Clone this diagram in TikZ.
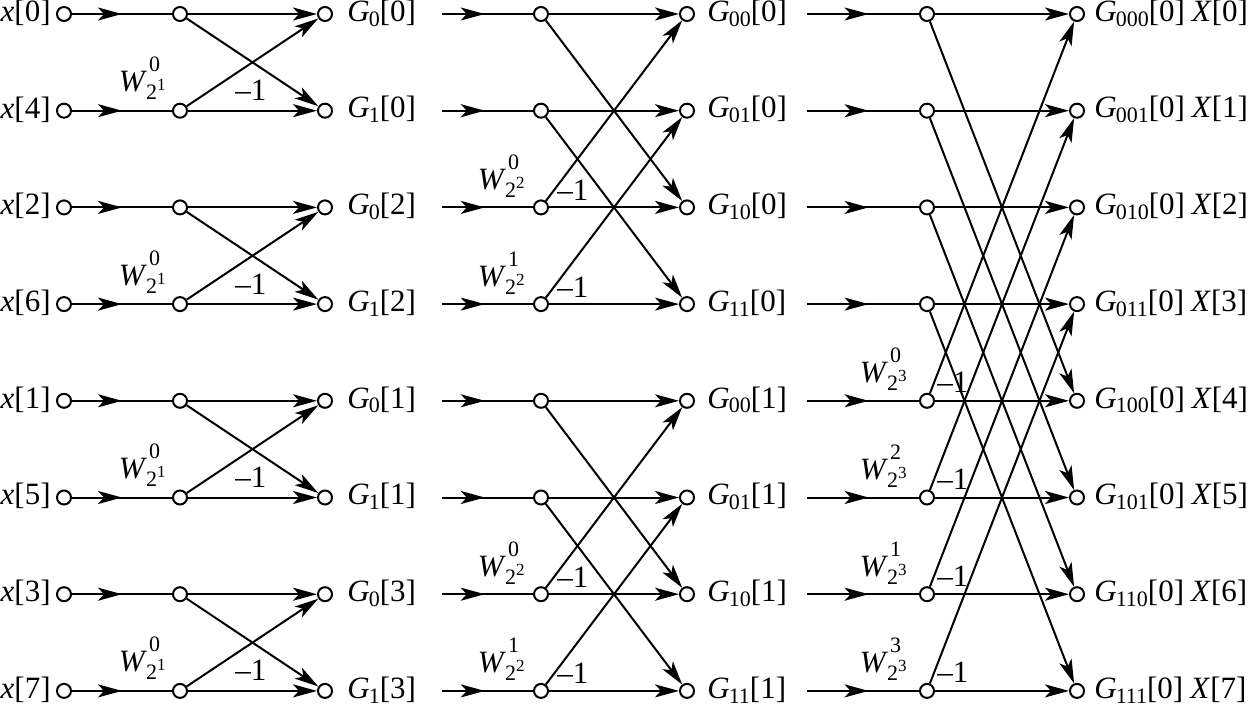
\documentclass[tikz,border=0pt]{standalone}
\usepackage{fontspec}
\setmainfont{Liberation Serif}
\usetikzlibrary{arrows.meta,decorations.markings}
\tikzset{
  pt/.style={circle,draw,line width=1pt,fill=white,inner sep=0pt,minimum size=7pt},
  ln/.style={line width=1pt},
  arr/.style={ln,-{Stealth[length=12pt,width=6.5pt,inset=3pt]}},
  midarr/.style={ln,postaction={decorate},decoration={markings,mark=at position #1 with {\arrow{Stealth[length=12pt,width=6.5pt,inset=3pt]}}}},
  lab/.style={inner sep=0pt,font=\fontsize{15.5}{18}\selectfont},
}
\newcommand\sbs[1]{\raisebox{-2.4pt}{\fontsize{11}{12}\selectfont #1}}
\newcommand\Wl[2]{\textit{W}\kern-0.5pt\rlap{\kern1.5pt\raisebox{10pt}{\fontsize{11}{12}\selectfont #1}}\raisebox{-4pt}{\fontsize{11}{12}\selectfont 2\raisebox{4.5pt}{\fontsize{8.5}{9}\selectfont #2}}}
\newcommand\mone{\textendash1}
\begin{document}
\begin{tikzpicture}[x=0.5pt,y=-0.5pt]
\useasboundingbox (0,0) rectangle (1258,706);
% nodes
\foreach \i in {0,...,7} {
  \pgfmathsetmacro\yy{14+96.7*\i}
  \node[pt] (a\i) at (64,\yy) {};
  \node[pt] (b\i) at (180,\yy) {};
  \node[pt] (c\i) at (325,\yy) {};
  \coordinate (s\i) at (442,\yy);
  \node[pt] (d\i) at (541,\yy) {};
  \node[pt] (e\i) at (687,\yy) {};
  \coordinate (t\i) at (807,\yy);
  \node[pt] (f\i) at (927,\yy) {};
  \node[pt] (g\i) at (1077,\yy) {};
}
% straight branches
\foreach \i in {0,...,7} {
  \draw[midarr=0.5] (a\i) -- (b\i);
  \draw[arr] (b\i) -- (c\i);
  \draw[midarr=0.47] (s\i) -- (d\i);
  \draw[arr] (d\i) -- (e\i);
  \draw[midarr=0.55] (t\i) -- (f\i);
  \draw[arr] (f\i) -- (g\i);
}
% stage 1
\foreach \p/\q in {0/1,2/3,4/5,6/7} {
  \draw[arr] (b\p) -- (c\q);
  \draw[arr] (b\q) -- (c\p);
}
% stage 2
\foreach \p/\q in {0/2,1/3,4/6,5/7} {
  \draw[arr] (d\p) -- (e\q);
  \draw[arr] (d\q) -- (e\p);
}
% stage 3
\foreach \p/\q in {0/4,1/5,2/6,3/7} {
  \draw[arr] (f\p) -- (g\q);
  \draw[arr] (f\q) -- (g\p);
}
% labels
\foreach \i/\n in {0/0,1/4,2/2,3/6,4/1,5/5,6/3,7/7}
  \node[lab,anchor=base east] (xl\i) at ([xshift=-2.5pt,yshift=-3.7pt]a\i.west) {\textit{x}[\n]};
\foreach \i/\s/\n in {0/0/0,1/1/0,2/0/2,3/1/2,4/0/1,5/1/1,6/0/3,7/1/3}
  \node[lab,anchor=base west] (gl\i) at ([xshift=7pt,yshift=-3.65pt]c\i.east) {\textit{G}\kern-0.5pt\sbs{\s}[\n]};
\foreach \i/\s/\n in {0/00/0,1/01/0,2/10/0,3/11/0,4/00/1,5/01/1,6/10/1,7/11/1}
  \node[lab,anchor=base west] (hl\i) at ([xshift=6pt,yshift=-3.65pt]e\i.east) {\textit{G}\kern-0.5pt\sbs{\s}[\n]};
\foreach \i/\s in {0/000,1/001,2/010,3/011,4/100,5/101,6/110,7/111}
  \node[lab,anchor=base west] (kl\i) at ([xshift=4.5pt,yshift=-3.65pt]g\i.east) {\textit{G}\kern-0.5pt\sbs{\s}[0]\hspace{3.5pt}\textit{X}[\i]};
% twiddle factors and -1
\foreach \i in {1,3,5,7} {
  \node[lab,anchor=base east] (wa\i) at ([xshift=-7pt,yshift=9.5pt]b\i.center) {\Wl{0}{1}};
  \node[lab,anchor=base west] (ma\i) at ([xshift=-45pt,yshift=5pt]c\i.center) {\mone};
}
\foreach \i/\e in {2/0,3/1,6/0,7/1} {
  \node[lab,anchor=base east] (wb\i) at ([xshift=-8pt,yshift=9pt]d\i.center) {\Wl{\e}{2}};
  \node[lab,anchor=base west] (mb\i) at ([xshift=8pt,yshift=3.5pt]d\i.center) {\mone};
}
\foreach \i/\e in {4/0,5/2,6/1,7/3} {
  \node[lab,anchor=base east] (wc\i) at ([xshift=-10pt,yshift=9pt]f\i.center) {\Wl{\e}{3}};
  \node[lab,anchor=base west] (mc\i) at ([xshift=5pt,yshift=4pt]f\i.center) {\mone};
}
\end{tikzpicture}
\end{document}
